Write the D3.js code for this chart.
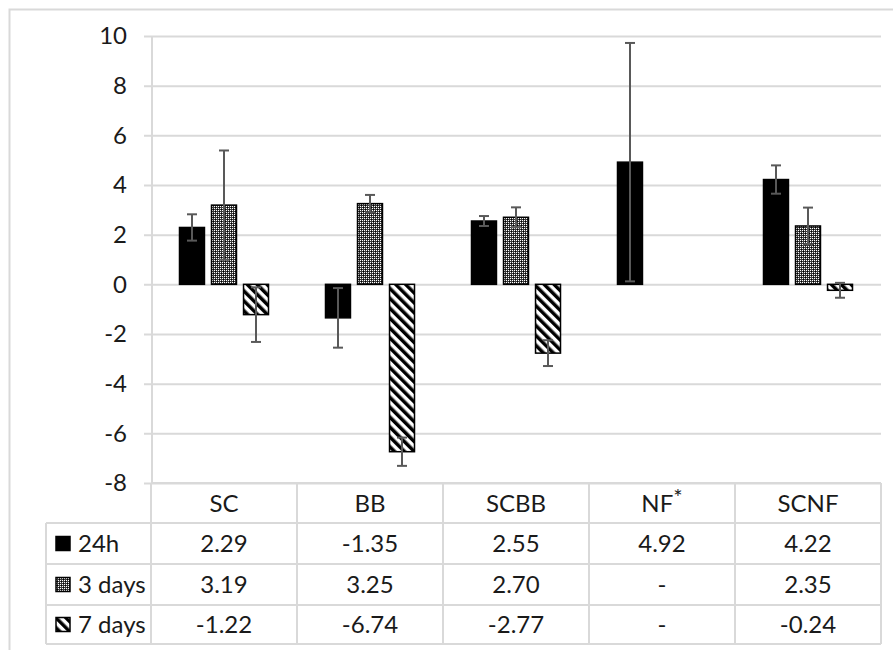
<!DOCTYPE html>
<html><head><meta charset="utf-8">
<script src="https://cdn.jsdelivr.net/npm/d3@7"></script>
<style>body{margin:0;background:#fff}svg{display:block}</style>
</head><body>
<script>
const categories = ["SC","BB","SCBB","NF","SCNF"];
const seriesNames = ["24h","3 days","7 days"];
const v24h   = [2.29, -1.35, 2.55, 4.92, 4.22];
const v3days = [3.19, 3.25, 2.70, null, 2.35];
const v7days = [-1.22, -6.74, -2.77, null, -0.24];
const e24h   = [0.53, 1.2, 0.2, 4.8, 0.57];
const e3days = [2.2, 0.35, 0.4, null, 0.74];
const e7days = [1.1, 0.57, 0.52, null, 0.3];
const yTicks = [-8,-6,-4,-2,0,2,4,6,8,10];

const values = [v24h, v3days, v7days];
const errors = [e24h, e3days, e7days];
const fills = ["#000", "url(#dots)", "url(#stripes)"];

const W = 893, H = 650;
const svg = d3.select("body").append("svg").attr("width", W).attr("height", H);
const defs = svg.append("defs");
const dots = defs.append("pattern").attr("id","dots").attr("patternUnits","userSpaceOnUse").attr("width",4).attr("height",4);
dots.append("rect").attr("width",4).attr("height",4).attr("fill","#3a3a3a");
[[0,0],[2,0],[0,2],[2,2]].forEach(p =>
  dots.append("rect").attr("x",p[0]).attr("y",p[1]).attr("width",1).attr("height",1).attr("fill","#fff"));
dots.append("rect").attr("x",1).attr("y",1).attr("width",1).attr("height",1).attr("fill","#000");
dots.append("rect").attr("x",3).attr("y",3).attr("width",1).attr("height",1).attr("fill","#000");
const stripes = defs.append("pattern").attr("id","stripes").attr("patternUnits","userSpaceOnUse")
  .attr("width",7).attr("height",7).attr("patternTransform","rotate(-45)");
stripes.append("rect").attr("width",7).attr("height",7).attr("fill","#fff");
stripes.append("rect").attr("width",3.5).attr("height",7).attr("fill","#000");

const grid = "#d9d9d9";
const font = "Lato, 'Open Sans', sans-serif";
const fs = 24;

// outer border
svg.append("path").attr("d", `M9.5,${H+2} V9.5 H${W+2}`).attr("fill","none").attr("stroke",grid).attr("stroke-width",2);

const pLeft = 151, pRight = 881, pTop = 36, pBottom = 483;
const x = d3.scaleBand().domain(categories).range([pLeft, pRight]);
const xs = d3.scaleBand().domain(seriesNames).range([0, x.bandwidth()]).paddingInner(0.22).paddingOuter(0.89);
const y = d3.scaleLinear().domain([-8, 10]).range([pBottom, pTop]);

// gridlines
const yAxis = d3.axisLeft(y).tickValues(yTicks).tickFormat(d => String(d))
  .tickSize(-(pRight-pLeft)).tickSizeOuter(0).tickPadding(24);
const ga = svg.append("g").attr("transform", `translate(${pLeft},0)`).call(yAxis);
ga.select(".domain").remove();
ga.selectAll(".tick line").attr("stroke", grid).attr("stroke-width",2).attr("x1", -7);
ga.selectAll(".tick text").attr("font-family", font).attr("font-size", fs).attr("fill","#1a1a1a");
// vertical axis line
svg.append("line").attr("x1",pLeft+1).attr("x2",pLeft+1).attr("y1",pTop).attr("y2",pBottom).attr("stroke",grid).attr("stroke-width",2);

// bars
seriesNames.forEach((s, si) => {
  const g = svg.append("g");
  categories.forEach((c, ci) => {
    const v = values[si][ci];
    if (v == null) return;
    const bx = x(c) + xs(s);
    g.append("rect").attr("x", bx).attr("width", xs.bandwidth())
      .attr("y", y(Math.max(0, v))).attr("height", Math.abs(y(v) - y(0)))
      .attr("fill", fills[si]).attr("stroke","#000").attr("stroke-width",1.5);
  });
});
// error bars
seriesNames.forEach((s, si) => {
  const g = svg.append("g").attr("stroke","#595959").attr("stroke-width",2);
  categories.forEach((c, ci) => {
    const v = values[si][ci], e = errors[si][ci];
    if (v == null || e == null) return;
    const cx = x(c) + xs(s) + xs.bandwidth()/2;
    g.append("line").attr("x1",cx).attr("x2",cx).attr("y1",y(v+e)).attr("y2",y(v-e));
    g.append("line").attr("x1",cx-5).attr("x2",cx+5).attr("y1",y(v+e)).attr("y2",y(v+e));
    g.append("line").attr("x1",cx-5).attr("x2",cx+5).attr("y1",y(v-e)).attr("y2",y(v-e));
  });
});

// data table
const rowH = [483, 523, 564, 605, 644];
const legendLeft = 46;
const tg = svg.append("g").attr("stroke", grid).attr("stroke-width",2);
tg.append("line").attr("x1",pLeft).attr("x2",pRight).attr("y1",rowH[0]).attr("y2",rowH[0]);
for (let i = 1; i < rowH.length; i++) {
  tg.append("line").attr("x1",legendLeft).attr("x2",pRight).attr("y1",rowH[i]).attr("y2",rowH[i]);
}
const vx = categories.map(c => x(c)).concat([pRight]);
vx.forEach(vv => tg.append("line").attr("x1",vv).attr("x2",vv).attr("y1",rowH[0]).attr("y2",rowH[4]));
tg.append("line").attr("x1",legendLeft).attr("x2",legendLeft).attr("y1",rowH[1]).attr("y2",rowH[4]);

const txt = svg.append("g").attr("font-family", font).attr("font-size", fs).attr("fill","#1a1a1a");
categories.forEach(c => {
  const t = txt.append("text").attr("x", x(c) + x.bandwidth()/2).attr("y", (rowH[0]+rowH[1])/2)
    .attr("dy","0.36em").attr("text-anchor","middle").text(c);
  if (c === "NF") t.append("tspan").attr("dy","-0.3em").attr("font-size",22).text("*");
});
seriesNames.forEach((s, si) => {
  const cy = (rowH[si+1] + rowH[si+2]) / 2;
  svg.append("rect").attr("x", 56).attr("y", cy - 7).attr("width", 14).attr("height", 14)
    .attr("fill", fills[si]).attr("stroke","#000").attr("stroke-width",1.5);
  txt.append("text").attr("x", 78).attr("y", cy).attr("dy","0.36em").text(s);
  categories.forEach((c, ci) => {
    const v = values[si][ci];
    txt.append("text").attr("x", x(c) + x.bandwidth()/2).attr("y", cy).attr("dy","0.36em")
      .attr("text-anchor","middle").text(v == null ? "-" : v.toFixed(2));
  });
});
</script>
</body></html>
